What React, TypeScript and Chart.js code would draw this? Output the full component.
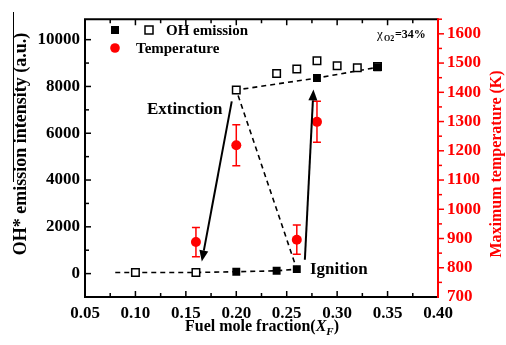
import React, { useEffect, useRef } from "react";
import { Chart, registerables } from "chart.js";

Chart.register(...registerables);

// ---- data ----
const xTickValues = [0.05, 0.1, 0.15, 0.2, 0.25, 0.3, 0.35, 0.4];
const leftTickValues = [0, 2000, 4000, 6000, 8000, 10000];
const rightTickValues = [700, 800, 900, 1000, 1100, 1200, 1300, 1400, 1500, 1600];

const ohOpenX = [0.1, 0.16, 0.2, 0.24, 0.26, 0.28, 0.3, 0.32, 0.34];
const ohOpenY = [50, 50, 7850, 8550, 8750, 9100, 8880, 8800, 8850];

const ohFilledX = [0.2, 0.24, 0.26, 0.28, 0.34];
const ohFilledY = [80, 120, 190, 8360, 8820];

const pathX = [0.08, 0.1, 0.16, 0.2, 0.24, 0.26, 0.2, 0.28, 0.34];
const pathY = [50, 50, 50, 80, 120, 190, 7850, 8360, 8820];

const tempX = [0.16, 0.2, 0.26, 0.28];
const tempY = [888, 1219, 896, 1299];
const tempErr = [50, 70, 50, 70];

const extinctionArrowX = [0.1955, 0.1658];
const extinctionArrowY = [7362, 520];
const ignitionArrowX = [0.268, 0.2765];
const ignitionArrowY = [590, 7875];

const RED = "#ff0000";
const SERIF = '"Liberation Serif", "Times New Roman", serif';
const f = (size: number, style = "bold") => `${style} ${size}px ${SERIF}`;

function arrow(ctx: CanvasRenderingContext2D, x1: number, y1: number, x2: number, y2: number) {
  const ang = Math.atan2(y2 - y1, x2 - x1);
  const hl = 11;
  const hw = 4.5;
  const bx = x2 - hl * Math.cos(ang);
  const by = y2 - hl * Math.sin(ang);
  ctx.save();
  ctx.strokeStyle = "#000";
  ctx.fillStyle = "#000";
  ctx.lineWidth = 2;
  ctx.beginPath();
  ctx.moveTo(x1, y1);
  ctx.lineTo(bx, by);
  ctx.stroke();
  ctx.beginPath();
  ctx.moveTo(x2, y2);
  ctx.lineTo(bx + hw * Math.sin(ang), by - hw * Math.cos(ang));
  ctx.lineTo(bx - hw * Math.sin(ang), by + hw * Math.cos(ang));
  ctx.closePath();
  ctx.fill();
  ctx.restore();
}

const decorPlugin = {
  id: "decor",
  beforeDraw(chart: any) {
    const ctx = chart.ctx;
    ctx.save();
    ctx.fillStyle = "#fff";
    ctx.fillRect(0, 0, chart.width, chart.height);
    ctx.restore();
  },
  beforeDatasetsDraw(chart: any) {
    const ctx = chart.ctx;
    const xs = chart.scales.x;
    const yr = chart.scales.y2;
    ctx.save();
    ctx.strokeStyle = RED;
    ctx.lineWidth = 1.5;
    for (let i = 0; i < tempX.length; i++) {
      const px = xs.getPixelForValue(tempX[i]);
      const top = yr.getPixelForValue(tempY[i] + tempErr[i]);
      const bot = yr.getPixelForValue(tempY[i] - tempErr[i]);
      ctx.beginPath();
      ctx.moveTo(px, top);
      ctx.lineTo(px, bot);
      ctx.moveTo(px - 4, top);
      ctx.lineTo(px + 4, top);
      ctx.moveTo(px - 4, bot);
      ctx.lineTo(px + 4, bot);
      ctx.stroke();
    }
    ctx.restore();
  },
  afterDatasetsDraw(chart: any) {
    const ctx = chart.ctx;
    const { left, right, top, bottom } = chart.chartArea;
    const xs = chart.scales.x;
    const yl = chart.scales.y;
    const yr = chart.scales.y2;

    // arrows
    arrow(
      ctx,
      xs.getPixelForValue(extinctionArrowX[0]),
      yl.getPixelForValue(extinctionArrowY[0]),
      xs.getPixelForValue(extinctionArrowX[1]),
      yl.getPixelForValue(extinctionArrowY[1])
    );
    arrow(
      ctx,
      xs.getPixelForValue(ignitionArrowX[0]),
      yl.getPixelForValue(ignitionArrowY[0]),
      xs.getPixelForValue(ignitionArrowX[1]),
      yl.getPixelForValue(ignitionArrowY[1])
    );

    ctx.save();
    // frame
    ctx.lineWidth = 2;
    ctx.strokeStyle = "#000";
    ctx.beginPath();
    ctx.moveTo(right, top);
    ctx.lineTo(left, top);
    ctx.lineTo(left, bottom);
    ctx.lineTo(right, bottom);
    ctx.stroke();
    ctx.strokeStyle = RED;
    ctx.beginPath();
    ctx.moveTo(right, top - 1);
    ctx.lineTo(right, bottom + 1);
    ctx.stroke();

    // x ticks (inward, bottom & top)
    ctx.strokeStyle = "#000";
    ctx.lineWidth = 1.5;
    for (let i = 1; i < 14; i++) {
      const v = 0.05 + i * 0.025;
      const px = xs.getPixelForValue(v);
      const len = i % 2 === 0 ? 6 : 4;
      ctx.beginPath();
      ctx.moveTo(px, bottom);
      ctx.lineTo(px, bottom - len);
      ctx.moveTo(px, top);
      ctx.lineTo(px, top + len);
      ctx.stroke();
    }
    // left ticks (inward)
    for (let v = 0; v <= 10000; v += 1000) {
      const py = yl.getPixelForValue(v);
      const len = v % 2000 === 0 ? 6 : 4;
      ctx.beginPath();
      ctx.moveTo(left, py);
      ctx.lineTo(left + len, py);
      ctx.stroke();
    }
    // right ticks (outward, red)
    ctx.strokeStyle = RED;
    for (let v = 750; v <= 1650; v += 50) {
      const py = yr.getPixelForValue(v);
      const len = v % 100 === 0 ? 6 : 4;
      ctx.beginPath();
      ctx.moveTo(right, py);
      ctx.lineTo(right + len, py);
      ctx.stroke();
    }

    // legend
    ctx.fillStyle = "#000";
    ctx.fillRect(111, 26, 8, 8);
    ctx.fillStyle = "#fff";
    ctx.fillRect(145, 26, 8, 8);
    ctx.strokeStyle = "#000";
    ctx.lineWidth = 1.5;
    ctx.strokeRect(145, 26, 8, 8);
    ctx.fillStyle = RED;
    ctx.beginPath();
    ctx.arc(115, 48, 4.8, 0, Math.PI * 2);
    ctx.fill();
    ctx.fillStyle = "#000";
    ctx.font = f(15);
    ctx.textAlign = "left";
    ctx.textBaseline = "middle";
    ctx.fillText("OH emission", 166, 31);
    ctx.fillText("Temperature", 136, 49);

    // annotations
    ctx.font = f(17);
    ctx.fillText("Extinction", 147, 110);
    ctx.fillText("Ignition", 310, 270);

    // chi O2 = 34%
    ctx.font = f(13, "normal");
    ctx.fillText("\u03c7", 377, 35);
    ctx.font = f(8);
    ctx.fillText("O2", 384, 39);
    ctx.font = f(12);
    ctx.fillText("=34%", 395, 35);

    // axis titles
    ctx.textAlign = "center";
    ctx.save();
    ctx.translate(21, 144);
    ctx.rotate(-Math.PI / 2);
    ctx.font = f(18);
    ctx.fillStyle = "#000";
    ctx.fillText("OH* emission intensity (a.u.)", 0, 0);
    ctx.restore();
    ctx.save();
    ctx.translate(497, 164);
    ctx.rotate(-Math.PI / 2);
    ctx.font = f(16);
    ctx.fillStyle = RED;
    ctx.fillText("Maximum temperature (K)", 0, 0);
    ctx.restore();

    // stray vertical line at far left
    ctx.strokeStyle = "#000";
    ctx.lineWidth = 1;
    ctx.beginPath();
    ctx.moveTo(13.5, 12);
    ctx.lineTo(13.5, 182);
    ctx.stroke();

    // x title with italic X and subscript F
    ctx.textAlign = "left";
    ctx.fillStyle = "#000";
    const base = "Fuel mole fraction(";
    ctx.font = f(16);
    const w1 = ctx.measureText(base).width;
    ctx.font = f(16, "italic bold");
    const w2 = ctx.measureText("X").width;
    ctx.font = f(11, "italic bold");
    const w3 = ctx.measureText("F").width;
    ctx.font = f(16);
    const w4 = ctx.measureText(")").width;
    let x0 = 262 - (w1 + w2 + w3 + w4) / 2;
    const ty = 327;
    ctx.font = f(16);
    ctx.fillText(base, x0, ty);
    x0 += w1;
    ctx.font = f(16, "italic bold");
    ctx.fillText("X", x0, ty);
    x0 += w2;
    ctx.font = f(11, "italic bold");
    ctx.fillText("F", x0, ty + 5);
    x0 += w3;
    ctx.font = f(16);
    ctx.fillText(")", x0, ty);
    ctx.restore();
  },
};

export default function App() {
  const ref = useRef<HTMLCanvasElement | null>(null);
  useEffect(() => {
    if (!ref.current) return;
    const chart = new Chart(ref.current, {
      type: "scatter",
      data: {
        datasets: [
          {
            label: "OH filled",
            data: ohFilledX.map((x, i) => ({ x, y: ohFilledY[i] })),
            pointStyle: "rect",
            pointRadius: 5.6,
            backgroundColor: "#000",
            borderColor: "#000",
            borderWidth: 0,
            yAxisID: "y",
          },
          {
            label: "OH open",
            data: ohOpenX.map((x, i) => ({ x, y: ohOpenY[i] })),
            pointStyle: "rect",
            pointRadius: 5.3,
            backgroundColor: "#fff",
            borderColor: "#000",
            borderWidth: 1.5,
            yAxisID: "y",
          },
          {
            label: "Temperature",
            data: tempX.map((x, i) => ({ x, y: tempY[i] })),
            pointStyle: "circle",
            pointRadius: 5,
            backgroundColor: RED,
            borderColor: RED,
            borderWidth: 0,
            yAxisID: "y2",
          },
          {
            label: "path",
            data: pathX.map((x, i) => ({ x, y: pathY[i] })),
            showLine: true,
            pointRadius: 0,
            borderColor: "#000",
            borderWidth: 1.6,
            borderDash: [5, 4],
            yAxisID: "y",
          },
        ],
      },
      options: {
        animation: false,
        responsive: false,
        devicePixelRatio: 1,
        layout: { padding: { top: 13, left: 0, right: 0, bottom: 0 } },
        plugins: { legend: { display: false }, tooltip: { enabled: false } },
        scales: {
          x: {
            type: "linear",
            min: 0.05,
            max: 0.4,
            grid: { display: false, drawTicks: false },
            border: { display: false },
            afterBuildTicks: (s: any) => {
              s.ticks = xTickValues.map((v) => ({ value: v }));
            },
            afterFit: (s: any) => {
              s.height = 48;
            },
            ticks: {
              color: "#000",
              font: { family: SERIF, weight: "bold", size: 17 },
              padding: 6,
              maxRotation: 0,
              autoSkip: false,
              callback: (v: any) => Number(v).toFixed(2),
            },
          },
          y: {
            type: "linear",
            position: "left",
            min: -1000,
            max: 10875,
            grid: { display: false, drawTicks: false },
            border: { display: false },
            afterBuildTicks: (s: any) => {
              s.ticks = leftTickValues.map((v) => ({ value: v }));
            },
            afterFit: (s: any) => {
              s.width = 85;
            },
            ticks: {
              color: "#000",
              font: { family: SERIF, weight: "bold", size: 17 },
              padding: 5,
              autoSkip: false,
              callback: (v: any) => String(v),
            },
          },
          y2: {
            type: "linear",
            position: "right",
            min: 700,
            max: 1650,
            grid: { display: false, drawTicks: false },
            border: { display: false },
            afterBuildTicks: (s: any) => {
              s.ticks = rightTickValues.map((v) => ({ value: v }));
            },
            afterFit: (s: any) => {
              s.width = 68;
            },
            ticks: {
              color: RED,
              font: { family: SERIF, weight: "bold", size: 17 },
              padding: 9,
              autoSkip: false,
              callback: (v: any) => String(v),
            },
          },
        },
      } as any,
      plugins: [decorPlugin],
    });
    return () => chart.destroy();
  }, []);
  return (
    <div style={{ position: "absolute", left: 0, top: 0, width: 506, height: 345 }}>
      <canvas ref={ref} width={506} height={345} style={{ display: "block" }} />
    </div>
  );
}
